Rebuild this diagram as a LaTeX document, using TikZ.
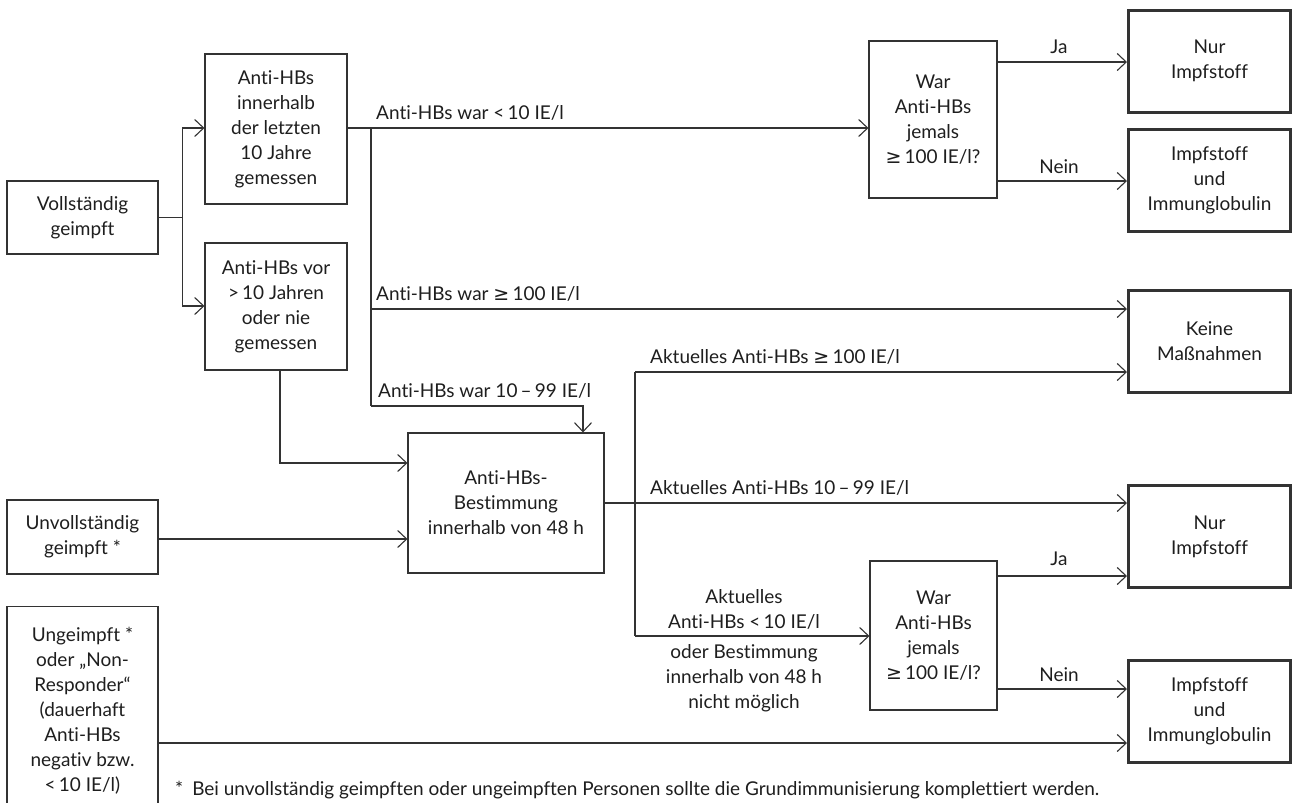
\documentclass[tikz,border=0pt]{standalone}
\usepackage{fontspec}
\setmainfont{Lato}[Ligatures={NoCommon}]
\newfontfamily\symf{DejaVu Sans}
\usetikzlibrary{arrows.meta}
\definecolor{lc}{HTML}{333333}
\definecolor{tc}{HTML}{1E1E1E}
\newcommand{\gex}{{\symf ≥}}
\begin{document}
\begin{tikzpicture}[x=1pt,y=-1pt,
  every node/.style={text=tc, font=\fontsize{19}{25}\selectfont},
  box/.style={draw=lc, line width=1.1pt, align=center, inner sep=0pt},
  endbox/.style={draw=lc, line width=3pt, align=center, inner sep=0pt, minimum width=162pt, minimum height=102pt},
  conn/.style={draw=lc, line width=1.1pt},
  arr/.style={conn, -{Straight Barb[length=9pt,width=17pt,line width=1.1pt]}},
  lbl/.style={inner sep=0pt, anchor=base west},
  clbl/.style={inner sep=0pt, anchor=base, align=center},
]
\useasboundingbox (0,0) rectangle (1293,803);

% left column
\node[box, minimum width=151pt, minimum height=73pt] (voll) at (82.5,217.5) {Vollständig\\geimpft};
\node[box, minimum width=151pt, minimum height=74pt] (unvoll) at (82.5,537) {Unvollständig\\geimpft *};
\node[box, minimum width=151pt, minimum height=240pt, anchor=north] (unge) at (82.5,606) {};
\node[align=center, inner sep=0pt] (ungeT) at (82.5,711) {Ungeimpft *\\oder „Non-\\Responder“\\(dauerhaft\\Anti-HBs\\negativ bzw.\\<\,10 IE/l)};

% second column
\node[box, minimum width=142pt, minimum height=150pt] (inner10) at (276,129) {Anti-HBs\\innerhalb\\der letzten\\10 Jahre\\gemessen};
\node[box, minimum width=142pt, minimum height=127pt] (vor10) at (276,306.5) {Anti-HBs vor\\>\,10 Jahren\\oder nie\\gemessen};

% middle
\node[box, minimum width=196pt, minimum height=140pt] (best) at (506,503) {Anti-HBs-\\Bestimmung\\innerhalb von 48 h};

% question boxes
\node[box, minimum width=128pt, minimum height=157pt] (war1) at (933,119.5) {War\\Anti-HBs\\jemals\\\gex\,100 IE/l?};
\node[box, minimum width=127pt, minimum height=149pt] (war2) at (933.5,635.5) {War\\Anti-HBs\\jemals\\\gex\,100 IE/l?};

% result boxes
\node[endbox] (nur1) at (1209.5,61) {Nur\\Impfstoff};
\node[endbox] (immun1) at (1209.5,180) {Impfstoff\\und\\Immunglobulin};
\node[endbox] (keine) at (1209.5,341) {Keine\\Maßnahmen};
\node[endbox] (nur2) at (1209.5,536.5) {Nur\\Impfstoff};
\node[endbox] (immun2) at (1209.5,711) {Impfstoff\\und\\Immunglobulin};

% junction coordinates
\coordinate (s1) at (371,128);
\coordinate (s2) at (371,309);
\coordinate (s3) at (371,406);
\coordinate (t0) at (635,372);
\coordinate (t1) at (635,503);
\coordinate (t2) at (635,636);

% connectors
\draw[arr] (voll.east) -- ++(24,0) |- (inner10.west |- s1);
\draw[arr] (voll.east) -- ++(24,0) |- (vor10.west |- 0,306);
\draw[arr] (inner10.east |- s1) -- (war1.west |- s1);
\draw[conn] (s1) -- (s3);
\draw[arr] (s2) -- (keine.west |- s2);
\draw[arr] (s3) -| (best.north -| 583,0);
\draw[arr] (vor10.south -| 280,0) |- (best.west |- 0,463);
\draw[arr] (unvoll.east |- 0,539) -- (best.west |- 0,539);
\draw[conn] (best.east) -- (t1);
\draw[conn] (t0) -- (t2);
\draw[arr] (t0) -- (keine.west |- t0);
\draw[arr] (t1) -- (nur2.west |- t1);
\draw[arr] (t2) -- (war2.west |- t2);
\draw[arr] (war1.east |- 0,62) -- (nur1.west |- 0,62);
\draw[arr] (war1.east |- 0,181) -- (immun1.west |- 0,181);
\draw[arr] (war2.east |- 0,576) -- (nur2.west |- 0,576);
\draw[arr] (war2.east |- 0,689) -- (immun2.west |- 0,689);
\draw[arr] (unge.east |- 0,743) -- (immun2.west |- 0,743);

% labels
\node[lbl] (l1) at (376,119) {Anti-HBs war <\,10 IE/l};
\node[lbl] (l2) at (376,300) {Anti-HBs war \gex\,100 IE/l};
\node[lbl] (l3) at (378,397) {Anti-HBs war 10\,–\,99 IE/l};
\node[lbl] (l4) at (650,363) {Aktuelles Anti-HBs \gex\,100 IE/l};
\node[lbl] (l5) at (650,494) {Aktuelles Anti-HBs 10\,–\,99 IE/l};
\node[clbl] (l6) at (744,628) {Aktuelles\\Anti-HBs <\,10 IE/l};
\node[clbl] (l7) at (744,708) {oder Bestimmung\\innerhalb von 48 h\\nicht möglich};
\node[clbl] (ja1) at (1059,53) {Ja};
\node[clbl] (nein1) at (1059,173) {Nein};
\node[clbl] (ja2) at (1059,565) {Ja};
\node[clbl] (nein2) at (1059,681) {Nein};

% footnote
\node[lbl] (fn) at (175,795) {*\hspace{9pt}Bei unvollständig geimpften oder ungeimpften Personen sollte die Grundimmunisierung komplettiert werden.};
\end{tikzpicture}
\end{document}
